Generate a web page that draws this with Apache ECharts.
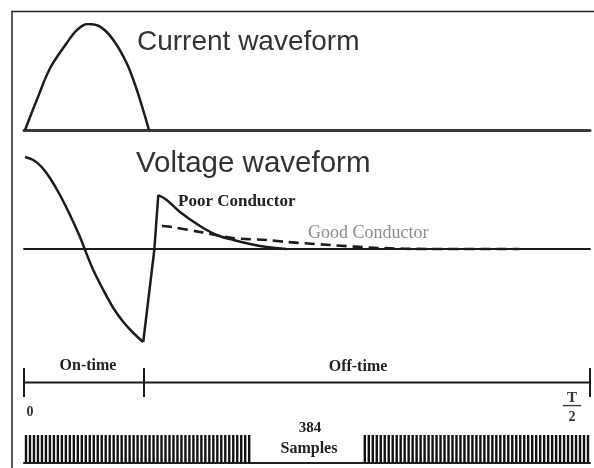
<!DOCTYPE html>
<html>
<head>
<meta charset="utf-8">
<script src="https://cdn.jsdelivr.net/npm/echarts@6/dist/echarts.min.js"></script>
<style>
  html, body { margin: 0; padding: 0; background: #fff; }
  #chart { width: 594px; height: 468px; }
</style>
</head>
<body>
<div id="chart"></div>
<script>
// Time axis in sample units across half a period (0 .. T/2)
const halfPeriodSamples = 384;
const onTimeEnd = 81;

// Transmitter current pulse: [sample, relative amplitude]
const currentPulse = [
  [0.7, 0], [8.6, 0.28], [17.6, 0.58], [29, 0.82], [35.7, 0.94], [43, 1],
  [51.6, 0.975], [60.6, 0.85], [69.7, 0.63], [76.5, 0.38], [84.8, 0]
];

// Received voltage while the transmitter is on: [sample, relative amplitude]
const voltageOnTime = [
  [0.7, 0.92], [6.3, 0.89], [12, 0.82], [17.6, 0.71], [24.4, 0.54], [31.2, 0.34],
  [38, 0.12], [41.4, -0.01], [47, -0.21], [53.8, -0.41], [60.6, -0.59],
  [67.4, -0.73], [74.2, -0.84], [80.9, -0.93]
];

// Fast swing at switch-off
const voltageSwitchOff = [[80.9, -0.93], [88.4, -0.01], [91.1, 0.54]];

// Off-time decay over a poor conductor
const poorConductor = [
  [91.1, 0.54], [96.8, 0.49], [105.8, 0.37], [119.4, 0.23], [130.7, 0.14],
  [142, 0.09], [160, 0.03], [178, 0]
];

// Off-time decay over a good conductor
const goodConductor = [
  [93.6, 0.23], [100.4, 0.22], [119.4, 0.17], [142, 0.11], [165, 0.09],
  [178.4, 0.07], [207.6, 0.04], [241.5, 0.01], [275.4, 0], [336, 0]
];

// Timeline boundaries: start, end of on-time, T/2
const timelineMarks = [0, onTimeEnd, halfPeriodSamples];

// Sampling comb: 1 = sample gate drawn, '-' = gap where the count is written
const sampleMarks = [
  1,1,1,1,1,1,1,1,1,1, 1,1,1,1,1,1,1,1,1,1, 1,1,1,1,1,1,1,1,1,1,
  1,1,1,1,1,1,1,1,1,1, 1,1,1,1,1,1,1,1,1,1, 1,1,1,1,1,1,1,
  '-','-','-','-','-','-','-','-','-','-','-','-','-','-',
  '-','-','-','-','-','-','-','-','-','-','-','-','-','-',
  1,1,1,1,1,1,1,1,1,1, 1,1,1,1,1,1,1,1,1,1, 1,1,1,1,1,1,1,1,1,1,
  1,1,1,1,1,1,1,1,1,1, 1,1,1,1,1,1,1,1,1,1, 1,1,1,1,1,1,1
];

const ink = '#1c1c1c';
const serif = "'Liberation Serif', 'Times New Roman', serif";
const sans = "'Liberation Sans', Arial, sans-serif";

const hiddenValueY = (min, max, idx) => ({
  type: 'value', gridIndex: idx, min, max, show: false
});
const timeX = (idx, line) => ({
  type: 'value', gridIndex: idx, min: 0, max: halfPeriodSamples,
  axisTick: { show: false }, axisLabel: { show: false }, splitLine: { show: false },
  axisLine: line ? { show: true, onZero: true, lineStyle: line } : { show: false }
});

const chart = echarts.init(document.getElementById('chart'));
chart.setOption({
  animation: false,
  backgroundColor: '#fff',
  grid: [
    { left: 24, right: 4, top: 24, height: 106 },
    { left: 24, right: 4, top: 149, height: 200 },
    { left: 24, right: 4, top: 368, height: 29 },
    { left: 24, right: 4, top: 435, height: 28 }
  ],
  xAxis: [
    timeX(0, { color: '#3a3a3a', width: 3 }),
    timeX(1, { color: ink, width: 1.8 }),
    timeX(2, null),
    {
      type: 'category', gridIndex: 3, data: sampleMarks.map((_, i) => i + 1),
      boundaryGap: true,
      axisTick: { show: false }, axisLabel: { show: false }, splitLine: { show: false },
      axisLine: { show: true, lineStyle: { color: '#222', width: 2 } }
    }
  ],
  yAxis: [
    hiddenValueY(0, 1, 0),
    hiddenValueY(-1, 1, 1),
    hiddenValueY(-1, 1, 2),
    hiddenValueY(0, 1, 3)
  ],
  series: [
    {
      name: 'Current', type: 'line', xAxisIndex: 0, yAxisIndex: 0,
      data: currentPulse, smooth: 0.35, showSymbol: false,
      lineStyle: { color: ink, width: 2.5 }
    },
    {
      name: 'Voltage on-time', type: 'line', xAxisIndex: 1, yAxisIndex: 1,
      data: voltageOnTime, smooth: 0.35, showSymbol: false,
      lineStyle: { color: ink, width: 2.5 }
    },
    {
      name: 'Switch-off', type: 'line', xAxisIndex: 1, yAxisIndex: 1,
      data: voltageSwitchOff, showSymbol: false,
      lineStyle: { color: ink, width: 2.5 }
    },
    {
      name: 'Poor Conductor', type: 'line', xAxisIndex: 1, yAxisIndex: 1,
      data: poorConductor, smooth: 0.35, showSymbol: false,
      lineStyle: { color: ink, width: 2.5 }
    },
    {
      name: 'Good Conductor', type: 'line', xAxisIndex: 1, yAxisIndex: 1,
      data: goodConductor, smooth: 0.3, showSymbol: false,
      lineStyle: { color: ink, width: 2.6, type: [10, 6] }
    },
    {
      name: 'Timeline', type: 'line', xAxisIndex: 2, yAxisIndex: 2,
      data: [[0, 0], [halfPeriodSamples, 0]], showSymbol: false,
      lineStyle: { color: ink, width: 2 },
      markLine: {
        silent: true, symbol: ['none', 'none'],
        label: { show: false },
        lineStyle: { type: 'solid', color: ink, width: 2 },
        data: timelineMarks.map(v => ({ xAxis: v }))
      }
    },
    {
      name: 'Samples', type: 'bar', xAxisIndex: 3, yAxisIndex: 3,
      data: sampleMarks, barWidth: 2.4,
      itemStyle: { color: '#111' }
    }
  ],
  graphic: [
    {
      type: 'rect', silent: true,
      shape: { x: 12, y: 11.5, width: 600, height: 470 },
      style: { fill: null, stroke: '#222', lineWidth: 1.5 }
    },
    { type: 'text', x: 137, y: 42, style: { text: 'Current waveform', font: `28px ${sans}`, fill: '#333', textVerticalAlign: 'middle' } },
    { type: 'text', x: 136, y: 164, style: { text: 'Voltage waveform', font: `29.5px ${sans}`, fill: '#333', textVerticalAlign: 'middle' } },
    { type: 'text', x: 178, y: 202, style: { text: 'Poor Conductor', font: `bold 17px ${serif}`, fill: '#222', textVerticalAlign: 'middle' } },
    { type: 'text', x: 308, y: 233, style: { text: 'Good Conductor', font: `18px ${serif}`, fill: '#8c8c8c', textVerticalAlign: 'middle' } },
    { type: 'text', x: 88, y: 366, style: { text: 'On-time', font: `bold 16px ${serif}`, fill: '#222', textAlign: 'center', textVerticalAlign: 'middle' } },
    { type: 'text', x: 358, y: 367, style: { text: 'Off-time', font: `bold 16px ${serif}`, fill: '#222', textAlign: 'center', textVerticalAlign: 'middle' } },
    { type: 'text', x: 30, y: 412, style: { text: '0', font: `bold 14px ${serif}`, fill: '#333', textAlign: 'center', textVerticalAlign: 'middle' } },
    { type: 'text', x: 572, y: 398, style: { text: 'T', font: `bold 15px ${serif}`, fill: '#333', textAlign: 'center', textVerticalAlign: 'middle' } },
    { type: 'text', x: 572, y: 405, style: { text: '\u2014', font: `bold 18px ${serif}`, fill: '#333', textAlign: 'center', textVerticalAlign: 'middle' } },
    { type: 'text', x: 572, y: 417, style: { text: '2', font: `bold 14px ${serif}`, fill: '#333', textAlign: 'center', textVerticalAlign: 'middle' } },
    { type: 'text', x: 310, y: 428, style: { text: '384', font: `bold 15px ${serif}`, fill: '#222', textAlign: 'center', textVerticalAlign: 'middle' } },
    { type: 'text', x: 309, y: 449, style: { text: 'Samples', font: `bold 16px ${serif}`, fill: '#222', textAlign: 'center', textVerticalAlign: 'middle' } }
  ]
});
</script>
</body>
</html>
